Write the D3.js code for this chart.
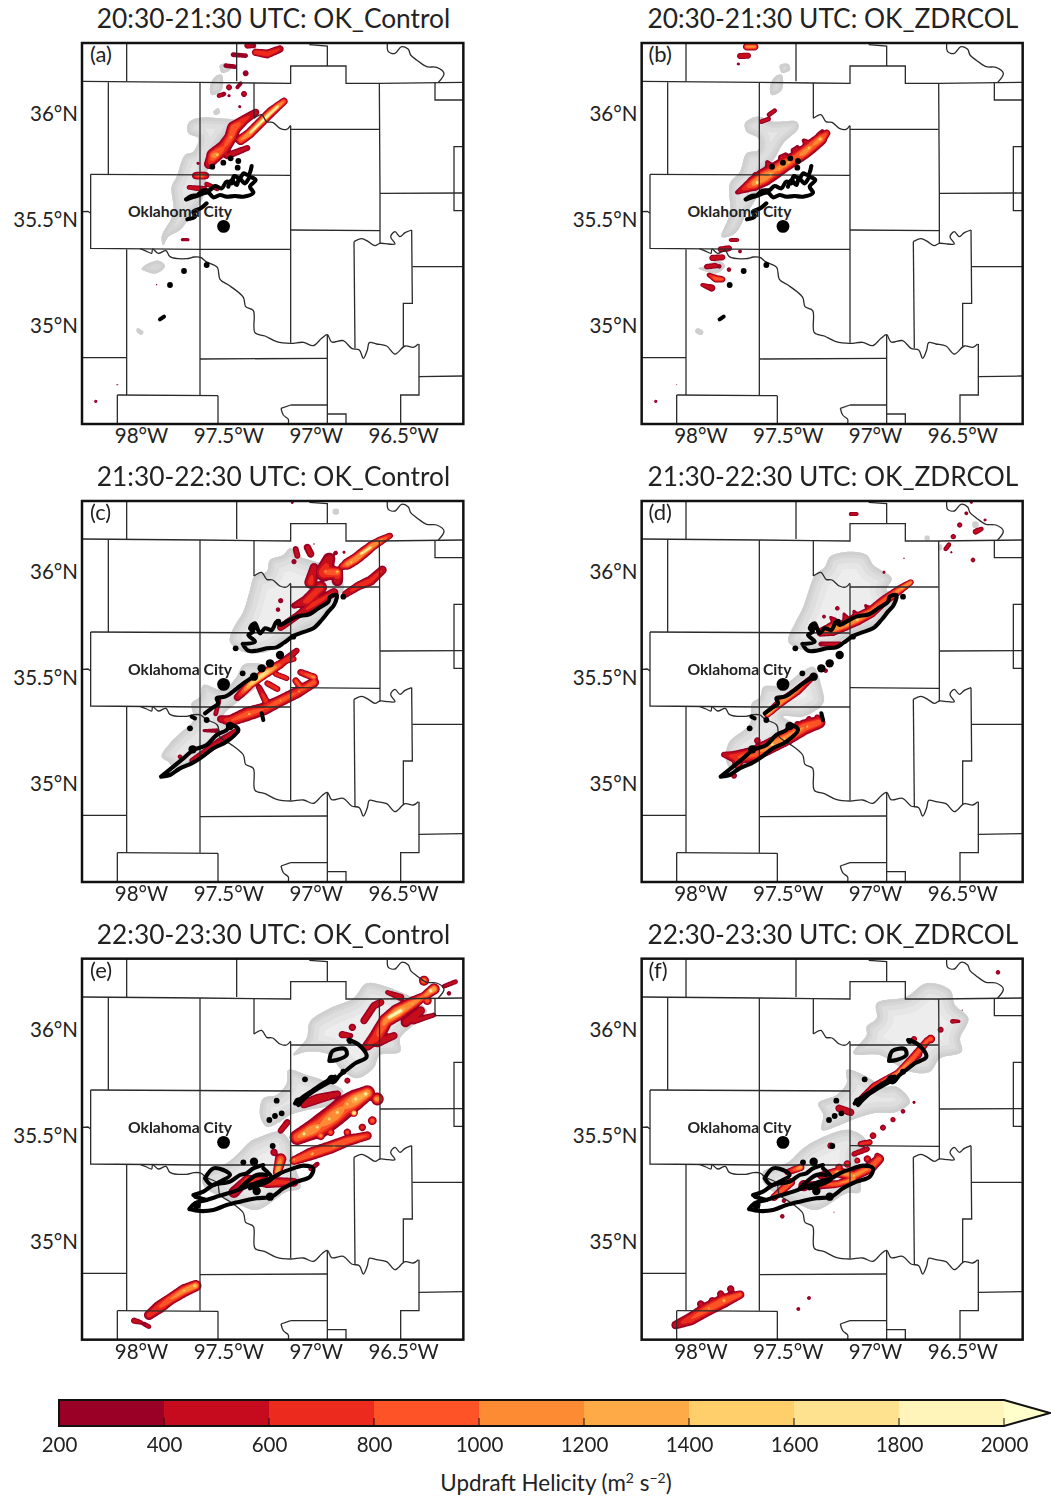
<!DOCTYPE html>
<html><head><meta charset="utf-8">
<script src="https://cdnjs.cloudflare.com/ajax/libs/d3/7.8.5/d3.min.js"></script>
<style>html,body{margin:0;padding:0;background:#fff}svg{display:block}text{font-family:Lato,"Noto Sans",sans-serif;fill:#222}</style>
</head><body><svg id="c" width="1051" height="1498"></svg>
<script>
// ---- map geometry (model-grid units on panel (a); one unit = 1/3 px) ----
const counties=[
[[140,10],[140,124]],[[470,10],[470,124]],[[8,124],[360,127],[522,129],[632,130],[632,78],[798,78],[798,130],[898,130],[1148,127]],
[[688,14],[742,18],[742,78]],[[898,130],[900,460],[900,610]],[[1065,127],[1065,180],[1148,180]],[[1148,320],[1122,320],[1122,512],[1148,512]],
[[900,460],[1148,459]],[[85,127],[85,403]],[[32,403],[632,406]],[[32,403],[32,625],[360,628],[632,628]],[[360,127],[360,1065]],[[522,129],[522,235]],
[[632,268],[898,268]],[[632,258],[632,908]],[[632,570],[900,572]],[[822,605],[825,925]],[[995,570],[997,790],[970,790],[970,920]],[[997,680],[1148,680]],
[[1017,912],[1017,1010],[1148,1008]],[[1017,1010],[1017,1065],[962,1065],[962,1150]],[[742,885],[742,1150]],[[742,955],[360,957]],[[8,953],[140,953]],
[[140,628],[140,1065]],[[112,1065],[414,1067]],[[112,1065],[112,1150]],[[414,1067],[414,1150]],[[742,1122],[798,1122],[798,1150]],[[632,1095],[742,1095]],[[8,515],[24,514],[32,520]]
];
const rivers=[
[[922,12],[925,35],[945,40],[965,20],[985,28],[992,45],[1010,60],[1040,80],[1070,82],[1092,100],[1075,127]],
[[522,235],[545,224],[560,245],[578,247],[600,265],[620,268],[632,256]],
[[180,626],[200,634],[215,640],[218,627],[235,640],[258,632],[270,650],[320,656],[342,651],[362,652],[378,665],[412,682],[420,718],[450,738],[490,772],[497,800],[520,812],[525,878],[555,888],[590,905],[632,910],[670,907],[700,917],[725,895],[742,884],[755,906],[790,902],[815,925],[838,930],[850,955],[862,930],[868,908],[890,912],[920,918],[945,942],[975,918],[1000,922],[1015,912]],
[[822,605],[845,596],[865,605],[885,617],[900,610],[925,612],[945,612],[932,590],[945,575],[960,590],[975,578],[995,570]],
[[603,1105],[632,1095]],[[603,1105],[610,1125],[625,1138],[625,1150]]
];
// ---- composite reflectivity / gray swaths: closed outlines ----
const grayA=[[[350,235],[420,235],[470,245],[440,280],[400,340],[380,400],[370,470],[330,530],[300,570],[265,590],[250,615],[245,590],[280,520],[275,440],[290,410],[315,345],[340,335],[355,295],[325,280],[325,250]],
[[420,75],[445,72],[450,90],[425,98]],[[405,110],[425,105],[425,150],[395,165],[390,140]],[[415,205],[420,218],[405,225],[400,215]],[[190,680],[235,662],[255,678],[230,700],[200,695],[185,688]],[[172,865],[190,875],[185,885],[170,875]]];
const grayB=[[[315,250],[350,230],[400,245],[470,245],[475,265],[430,310],[400,360],[360,400],[350,470],[320,520],[290,575],[265,590],[245,590],[270,520],[270,430],[300,395],[320,340],[355,330],[355,295],[320,275]],
[[420,75],[445,72],[450,90],[425,98]],[[405,110],[425,105],[425,150],[395,165],[390,140]],[[190,680],[235,662],[255,678],[230,700],[200,695],[175,685]],[[172,865],[190,875],[185,885],[165,875]]];
const grayC=[[[630,145],[660,170],[720,190],[780,230],[790,270],[760,300],[730,360],[680,385],[620,420],[560,455],[490,455],[450,425],[460,385],[490,335],[510,270],[525,225],[560,215],[570,180],[610,165]],
[[520,490],[560,500],[530,560],[480,600],[430,650],[470,690],[420,730],[360,780],[290,810],[265,785],[245,770],[270,730],[300,700],[340,660],[335,610],[360,590],[370,555],[430,570],[470,530],[490,495]],
[[760,28],[775,28],[775,42],[760,42]]];
const grayD=[[[630,155],[680,165],[700,195],[755,235],[740,270],[770,290],[740,330],[720,370],[640,400],[560,450],[490,450],[445,425],[465,370],[490,320],[510,260],[525,225],[555,200],[570,170]],
[[520,500],[545,560],[550,610],[490,650],[430,650],[470,680],[420,720],[370,770],[280,810],[260,790],[265,730],[330,670],[335,610],[360,590],[370,560],[430,555],[480,520]],
[[1000,65],[1015,68],[1012,85],[998,80]],[[855,108],[868,108],[868,120],[855,120]],[[895,135],[905,135],[905,150],[895,150]]];
const grayE=[[[860,85],[920,95],[970,115],[1000,130],[1040,170],[1000,210],[960,250],[960,290],[900,300],[880,340],[830,370],[780,340],[750,300],[680,290],[640,300],[680,250],[690,200],[750,160],[820,130]],
[[625,345],[680,360],[740,380],[790,410],[750,450],[680,465],[630,480],[600,500],[560,515],[540,480],[550,430],[590,420],[620,385]],
[[530,550],[600,530],[630,560],[640,620],[660,700],[620,710],[530,765],[480,750],[430,730],[370,690],[370,660],[440,625],[480,590],[510,560]]];
const grayF=[[[860,85],[930,105],[945,150],[985,190],[960,250],[965,290],[900,310],[870,350],[810,350],[770,330],[720,300],[640,295],[680,240],[680,215],[710,190],[710,145],[800,125]],
[[620,345],[680,365],[730,395],[770,395],[810,440],[770,470],[700,475],[650,490],[600,510],[545,525],[550,480],[535,445],[590,420],[620,385]],
[[530,555],[630,525],[680,560],[650,600],[660,710],[620,715],[530,765],[480,750],[430,730],[370,680],[370,650],[440,625],[490,580]]];
// ---- updraft-helicity swaths: spines of [x, y, half-width index, peak m2/s2] ----
const uhA=[
[[610,182,5,1000],[590,198,6,1200],[570,215,7,1100],[545,240,7,1200],[525,260,7,1100],[505,280,7,1200],[480,298,7,1000]],
[[592,197,3,1900],[548,238,3,2100],[510,275,3,1900],[565,218,2,1700]],
[[525,215,5,500],[490,238,7,700],[460,262,10,1000],[450,290,9,900],[430,320,10,800],[400,345,11,1100],[385,370,7,600]],[[410,342,3,1700]],[[450,290,3,1300]],
[[500,322,4,450],[440,345,5,500]],[[345,405,5,700],[360,405,5,1100],[375,405,5,700]],[[325,440,3,500],[370,445,4,600]],[[378,430,3,500],[410,445,3,400]],
[[305,597,2,400],[322,597,2,400]],[[525,35,5,800],[560,40,6,800],[598,25,5,600]],[[457,42,3,400],[495,45,3,400]],[[500,15,4,500],[520,15,3,400]],
[[435,75,3,400],[462,78,3,400]],[[495,98,4,400]],[[480,128,2.5,400],[470,140,2.5,400]],[[445,140,4,500]],[[415,165,3,450],[430,160,3,400]],[[445,165,2,350]],
[[490,160,4,500]],[[477,198,2,350]],[[228,732,1,400]],[[110,1032,1,350]],[[45,1082,2,500]],[[352,368,2,350]]];
const uhB=[
[[558,278,5,800],[540,295,9,1100],[515,315,10,1000],[490,335,10,1100],[460,355,10,900],[430,372,11,1100],[400,392,12,1000],[370,410,13,1200],[340,428,11,1100],[290,455,3,400]],
[[538,295,3,1900]],[[505,322,3,1700]],[[445,365,3,1700]],[[390,402,4,1800]],[[350,425,4,2000]],[[415,385,3,1500]],
[[535,283,4,500],[545,270,2,350]],[[500,310,7,500],[490,300,3,400]],[[465,330,7,500],[470,320,3,400]],[[425,352,6,500],[435,342,3,400]],[[385,375,7,500],[380,365,3,400]],[[345,405,5,500]],
[[318,18,5,1100],[342,18,5,1100]],[[298,46,4,600],[322,45,4,600]],[[293,70,2,400]],[[385,222,3,450],[402,210,3,450]],[[362,243,3,500],[384,235,3,500]],
[[270,598,2.5,450],[290,598,2.5,450]],[[240,626,4,550],[265,623,4,550]],[[298,632,2.5,400]],[[215,652,4,600],[245,650,4,600]],[[198,678,3.5,500],[225,675,3.5,500]],
[[236,677,3,450]],[[265,687,3,400]],[[205,703,3,600],[225,714,5,1000],[245,716,4,900]],[[185,733,2.5,500],[213,742,5,500]],[[108,1032,.7,300]],[[45,1082,2,500]]];
const uhC=[
[[928,105,4,700],[900,120,6,1100],[875,135,7,1200],[850,155,8,1100],[825,175,8,1200],[800,190,8,1100],[785,197,5,800]],[[870,140,3,1900],[840,160,3,1900]],[[812,185,3,1800]],[[905,118,2,1500]],
[[905,208,6,600],[870,240,7,700],[835,255,6,800],[795,280,5,500]],
[[745,175,9,500],[730,215,13,800],[770,215,8,1000],[770,240,8,500]],[[735,212,3,1400]],[[770,213,3,1600]],[[700,200,6,500],[690,245,9,700]],[[720,260,9,700],[680,300,9,700],[640,315,4,400]],
[[760,275,6,600],[700,310,7,700],[650,345,5,500],[600,380,5,600]],[[645,145,4,450],[650,165,4,500]],[[640,183,3.5,400]],[[680,140,5,450],[690,160,5,500]],[[700,130,1,300]],
[[765,157,3,400]],[[790,155,2,350]],[[600,300,3.5,400]],[[592,327,3,400]],
[[648,450,4,500],[600,490,6,800],[550,520,7,1700],[510,550,6,1500],[470,590,5,500]],[[615,482,3.5,700],[640,475,3.5,700]],[[585,520,3.5,800],[618,533,3.5,800]],
[[560,548,4,700],[590,565,4,800]],[[660,515,4.5,700],[700,530,5,1100]],[[645,540,4.5,900],[665,565,5,800]],
[[700,545,7,900],[650,575,8,800],[600,600,8,900],[550,625,9,800],[500,640,10,900],[450,660,8,800],[420,655,5,500]],[[600,600,3,1500]],[[505,640,3,1600]],[[655,572,3,1300]],[[535,560,4,500],[555,600,5,800]],
[[415,600,3,400],[405,640,3,450]],[[370,690,2,350],[410,690,3,400]],[[470,690,4,500],[420,720,5,400],[380,750,5,600],[335,780,4,500]],[[298,768,3,450]],[[635,5,2,350]]];
const uhD=[
[[810,245,4,1200],[780,265,6,1100],[730,300,7,900],[690,335,8,1100],[650,355,9,1200],[610,375,8,1100],[575,385,10,1200],[540,395,6,800]],[[785,262,3,1700]],[[650,357,3,1900]],[[620,372,3,1600]],[[575,385,4,2000]],
[[685,325,5,500],[675,315,2,350]],[[645,342,5,500],[640,332,2,350]],[[615,352,5,500],[610,340,2,350]],[[580,360,5,500],[570,350,2,350]],
[[600,430,3,500],[540,430,3,400]],[[550,348,2.5,450]],[[590,323,3,450]],[[730,215,2,350]],[[790,173,1,300]],
[[515,530,4,500],[470,570,6,1000],[420,605,6,1200],[380,640,5,1300]],[[555,510,3,400]],
[[535,665,9,900],[490,680,11,1000],[440,710,11,1100],[390,735,11,1200],[340,760,11,900],[290,770,10,800],[250,762,4,500]],[[500,678,3,1500]],[[395,732,4,1900]],[[430,715,3,1700]],[[290,790,7,800]],[[350,720,4.5,500]],[[280,825,4,500]],
[[505,655,4,500]],[[470,670,4,500]],[[530,650,4,500]],
[[630,40,2.5,450],[648,40,2.5,450]],[[957,73,3.5,450]],[[977,38,2.5,400]],[[938,108,3.5,500]],[[915,145,3,450],[925,132,3,450]],[[932,155,1.5,350]],[[997,178,3,450]],
[[1005,93,4,500],[1022,85,3,450]],[[1033,58,2,350]],[[992,5,2,350]]];
const uhE=[
[[1060,100,8,1300],[1030,122,6,1000],[1000,140,9,1100],[950,170,12,1300],[915,195,10,1100],[890,240,11,800],[860,270,7,600]],[[1050,105,5,2000]],[[960,165,5,2000],[925,185,4,2000]],[[995,145,3,1500]],[[895,240,3,1200]],
[[1030,75,7,1100]],[[1000,195,5,500],[1060,178,3,450]],[[1125,78,3,500],[1090,92,3,400]],[[1040,135,6,1000]],[[1020,165,6,600],[975,200,7,500]],[[1105,113,3,400]],
[[920,110,3,450],[960,125,5,500]],[[900,140,5,600],[880,150,5,500],[850,195,5,500]],[[815,215,5,500]],[[785,237,5,600],[810,240,3.5,400]],[[940,240,5,500],[890,260,7,600]],
[[860,412,11,1200],[825,432,15,1300],[790,455,17,1000],[760,480,17,1200],[720,510,17,1000],[690,525,14,1200],[650,545,11,1000]],
[[855,415,5,2000]],[[825,430,4,2000]],[[800,445,3,1900]],[[820,472,5,2000]],[[770,470,4,1900]],[[745,490,4,1700]],[[710,515,4,1800]],[[670,535,4,2000]],[[885,430,4,1400]],
[[890,430,9,1100]],[[875,495,6,1000]],[[845,515,5,700]],
[[860,540,6,800],[800,555,8,1000],[750,575,9,1000],[690,595,9,1000],[640,615,6,1000]],[[760,572,3,1600]],[[695,595,3,1600]],[[640,612,3,1400]],[[720,540,6,1100]],[[750,530,5,1000]],[[800,530,5,900]],[[600,610,8,1000],[590,650,6,1400]],
[[580,590,5,500]],[[620,500,4.5,500],[600,525,4,500]],[[800,375,4,500]],[[770,415,5,500],[710,430,7,600],[670,445,6,600]],
[[640,680,6,600],[560,680,8,800],[500,670,6,700],[460,710,8,500]],[[710,625,3,400],[690,640,3,500]],
[[345,990,8,1200],[310,1005,9,1100],[270,1030,8,1000],[235,1055,9,800],[205,1078,7,700]],[[342,990,3,1900]],[[310,1005,3,1700]],[[270,1030,2,1500]],[[160,1095,4,600],[180,1100,3,450]],[[190,1105,3,400],[205,1113,3,450]]];
const uhF=[
[[298,1017,6,900],[250,1035,10,1000],[200,1060,10,900],[150,1090,9,800],[105,1108,6,500]],[[250,1035,3,1600]],[[205,1058,3,1300]],[[270,1000,5,500]],[[240,1015,5,500]],[[215,1035,5,500]],[[180,1045,5,500]],
[[505,1027,2.5,450]],[[473,1060,2.5,450]],[[1072,50,3,450]],[[965,163,1,300]],[[935,197,3,500],[955,197,2,400]],[[900,222,4,500]],[[870,250,6,1000]],[[820,250,4,600]],[[830,295,7,800]],
[[860,255,5,900],[815,310,6,1000],[770,352,4,1100],[700,390,4,700],[650,440,4,500]],
[[820,440,2,350]],[[787,467,3,450]],[[757,492,3.5,500]],[[727,516,4,500]],[[697,540,4.5,600]],[[660,565,4,700],[687,560,4,700]],[[640,595,3.5,500],[680,580,3.5,500]],[[570,570,4.5,700]],[[595,458,5,600],[630,470,5,600]],
[[715,610,7,900],[690,635,8,1000],[640,660,7,1100],[590,650,7,1100],[540,660,5,500]],[[640,660,3,1800]],[[590,650,3,1900]],[[690,635,3,1400]],[[640,670,5,1100],[590,685,5,1000],[510,690,6,500]],[[480,635,5,1300],[440,650,4,500]],
[[710,600,4,600]],[[680,610,5,700]],[[650,615,4,700]],[[620,625,5,800]],[[595,635,5,800]],
[[450,680,6,1000],[400,725,5,1000]],[[445,685,2,1600]],[[405,720,2,1500]],[[430,735,3,400]],[[490,690,8,500]],[[425,782,3,450]],[[390,810,.8,300]],[[580,770,.8,300]]];
// ---- observed rotation tracks (black), shared per row ----
const trackAB=[[[318,478],[335,468],[352,465],[368,452],[390,450],[405,438],[425,445],[440,425],[455,430],[462,408],[480,415],[490,400],[505,405],[515,378]],
[[320,478],[350,468],[385,458],[400,472],[420,465],[440,470],[465,468],[490,470],[520,458],[510,440],[527,420],[510,412],[495,430],[478,415],[470,435],[455,420],[445,440]],
[[322,538],[345,530],[340,515],[362,505],[380,490]],[[240,838],[252,830]]];
const dotsAB=[[312,693],[380,675],[270,735],[430,368],[452,355],[475,363],[473,383],[397,380]];
const bigAB=[];
const trackCD=[[[488,432],[505,452],[530,452],[560,445],[590,442],[612,428],[640,408],[665,398],[700,385],[725,360],[745,335],[762,315],[770,285],[750,290],[745,305],[715,325],[690,342],[650,350],[625,362],[600,375],[590,365],[575,390],[555,385],[540,400],[525,370],[510,385],[520,395],[505,405],[525,425],[488,432]],
[[375,640],[395,625],[415,610],[410,595],[435,590],[465,570],[490,550],[520,530]],[[545,640],[550,660]],[[345,655],[335,650]],
[[243,830],[270,825],[300,805],[335,790],[360,775],[400,745],[440,725],[475,688],[450,675],[440,690],[410,705],[380,735],[340,750],[310,775],[280,800],[243,830]]];
const dotsCD=[[790,290],[467,445],[488,520],[330,685],[380,660],[595,365],[640,410]];
const bigCD=[[522,530],[545,505],[570,490],[600,465],[338,748],[520,380],[450,678]];
const trackEF=[[[748,318],[758,288],[795,282],[800,300],[770,315],[748,318]],[[805,255],[835,268],[860,305],[825,325],[800,345],[780,360],[760,382],[745,375]],
[[645,445],[670,425],[700,405],[730,385],[765,365]],[[655,450],[685,420],[715,400],[755,378]],
[[328,762],[360,768],[400,765],[440,750],[480,740],[530,730],[575,725],[610,700],[650,680],[690,665],[700,640],[670,632],[640,640],[600,655],[575,670],[540,680],[500,695],[460,710],[420,722],[380,735],[345,745],[328,762]],
[[340,720],[370,710],[400,690],[450,680],[480,660],[500,655],[520,640],[550,630]],[[375,670],[400,640],[430,645],[450,660],[420,680],[395,690],[375,670]],[[345,725],[380,735]],[[510,700],[540,690],[575,670],[550,640]],[[480,700],[530,660],[560,660]]];
const dotsEF=[[675,373],[590,437],[605,475],[585,483],[568,495],[578,573],[490,622],[810,258],[790,350]];
const bigEF=[[522,620],[755,372],[530,708],[570,725],[350,750],[655,440]];
// ---- labels ----
const lonTicks=[-98,-97.5,-97,-96.5], latTicks=[36,35.5,35];
const panelTags=["(a)","(b)","(c)","(d)","(e)","(f)"];
const times=["20:30-21:30 UTC","21:30-22:30 UTC","22:30-23:30 UTC"], runs=["OK_Control","OK_ZDRCOL"];
const levels=[200,400,600,800,1000,1200,1400,1600,1800,2000];
const colors=["#9a0026","#c60b1e","#ec2a1e","#fd5326","#fd8b34","#feab47","#fecf6a","#fee290","#fff4ba","#ffffcc"];
const cityName="Oklahoma City", cityLonLat=[-97.51,35.47];

const svg=d3.select("#c"), defs=svg.append("defs");
defs.append("filter").attr("id","soft").attr("x","-2%").attr("y","-2%").attr("width","104%").attr("height","104%").append("feGaussianBlur").attr("stdDeviation",0.45);
const STEP=4,N=Math.ceil(1170/STEP)+1,E=1.4;
function fieldOf(spines){
  const v=new Float32Array(N*N);
  const sig=q=>(2.0*q[2]+1)/Math.sqrt(2*Math.pow(Math.log(q[3]/200),1/E));
  for(const s of spines){
    const segs=s.length==1?[[s[0],s[0]]]:d3.pairs(s);
    for(const [a,b] of segs){
      const sa=sig(a),sb=sig(b);
      const pad=4*Math.max(sa,sb);
      const x0=Math.max(0,Math.floor((Math.min(a[0],b[0])-pad)/STEP)),x1=Math.min(N-1,Math.ceil((Math.max(a[0],b[0])+pad)/STEP));
      const y0=Math.max(0,Math.floor((Math.min(a[1],b[1])-pad)/STEP)),y1=Math.min(N-1,Math.ceil((Math.max(a[1],b[1])+pad)/STEP));
      const dx=b[0]-a[0],dy=b[1]-a[1],L=dx*dx+dy*dy;
      for(let j=y0;j<=y1;j++)for(let i=x0;i<=x1;i++){
        const px=i*STEP,py=j*STEP;
        const t=L?Math.max(0,Math.min(1,((px-a[0])*dx+(py-a[1])*dy)/L)):0;
        const qx=a[0]+t*dx-px,qy=a[1]+t*dy-py,sg=sa+t*(sb-sa),pk=a[3]+t*(b[3]-a[3]);
        const w=pk*Math.exp(-Math.pow((qx*qx+qy*qy)/(2*sg*sg),E));
        if(w>v[j*N+i])v[j*N+i]=w;
      }
    }
  }
  return v;
}
const panels=[
 {i:0,cx:80,cy:40,sh:[0,0],fx:[6,1150],fy:[9,1152],gray:grayA,uh:uhA,tr:trackAB,dots:dotsAB,big:bigAB,bx:0},
 {i:1,cx:640,cy:40,sh:[2,0],fx:[5,1148],fy:[9,1152],gray:grayB,uh:uhB,tr:trackAB,dots:dotsAB,big:bigAB,bx:-1},
 {i:2,cx:80,cy:500,sh:[0,7],fx:[6,1150],fy:[3,1146],gray:grayC,uh:uhC,tr:trackCD,dots:dotsCD,big:bigCD,bx:0},
 {i:3,cx:640,cy:500,sh:[2,7],fx:[5,1148],fy:[3,1146],gray:grayD,uh:uhD,tr:trackCD,dots:dotsCD,big:bigCD,bx:-1},
 {i:4,cx:80,cy:955,sh:[0,-2],fx:[6,1150],fy:[11,1154],gray:grayE,uh:uhE,tr:trackEF,dots:dotsEF,big:bigEF,bx:0},
 {i:5,cx:640,cy:955,sh:[2,-2],fx:[5,1148],fy:[11,1154],gray:grayF,uh:uhF,tr:trackEF,dots:dotsEF,big:bigEF,bx:-1}];
for(const p of panels){
  const sx=d3.scaleLinear().domain([0,1170]).range([p.cx,p.cx+390]);
  const sy=d3.scaleLinear().domain([0,1170]).range([p.cy,p.cy+390]);
  const g=svg.append("g");
  const left=sx(p.fx[0]),right=sx(p.fx[1]),top=sy(p.fy[0]),bot=sy(p.fy[1]);
  const cid="clip"+p.i;
  defs.append("clipPath").attr("id",cid).append("rect").attr("x",left).attr("y",top).attr("width",right-left).attr("height",bot-top);
  const map=g.append("g").attr("clip-path",`url(#${cid})`).append("g").attr("filter","url(#soft)");
  const closed=d3.line().x(d=>sx(d[0])).y(d=>sy(d[1])).curve(d3.curveCatmullRomClosed);
  p.gray.forEach((poly,k)=>{
    const id=`g${p.i}_${k}`, d=closed(poly);
    defs.append("clipPath").attr("id",id).append("path").attr("d",d);
    const gg=map.append("g").attr("clip-path",`url(#${id})`);
    gg.append("path").attr("d",d).attr("fill","#ededed");
    [[34,"#e6e6e6"],[22,"#dedede"],[12,"#d6d6d6"],[6,"#cfcfcf"]].forEach(([w,c])=>gg.append("path").attr("d",d).attr("fill","none").attr("stroke",c).attr("stroke-width",w));
  });
  const vals=fieldOf(p.uh);
  const contours=d3.contours().size([N,N]).thresholds(levels)(vals);
  const path=d3.geoPath(d3.geoTransform({point(x,y){this.stream.point(sx(x*STEP),sy(y*STEP));}}));
  map.selectAll("path.uh").data(contours).join("path").attr("class","uh").attr("d",path).attr("fill",(d,i)=>colors[i]);
  const shifted=l=>l.map(q=>[q[0]-p.sh[0],q[1]-p.sh[1]]);
  const line=d3.line().x(d=>sx(d[0])).y(d=>sy(d[1]));
  map.selectAll("path.c").data(counties).join("path").attr("class","c").attr("d",d=>line(shifted(d))).attr("fill","none").attr("stroke","#2b2b2b").attr("stroke-width",1.3);
  const rline=d3.line().x(d=>sx(d[0])).y(d=>sy(d[1])).curve(d3.curveCatmullRom);
  map.selectAll("path.r").data(rivers).join("path").attr("class","r").attr("d",d=>rline(shifted(d))).attr("fill","none").attr("stroke","#2b2b2b").attr("stroke-width",1.3);
  const tl=d3.line().x(d=>sx(d[0]+p.bx)).y(d=>sy(d[1])).curve(d3.curveCatmullRom);
  map.selectAll("path.t").data(p.tr).join("path").attr("class","t").attr("d",tl).attr("fill","none").attr("stroke","#000").attr("stroke-width",4.1).attr("stroke-linecap","round").attr("stroke-linejoin","round");
  map.selectAll("circle.d").data(p.dots).join("circle").attr("class","d").attr("cx",d=>sx(d[0]+p.bx)).attr("cy",d=>sy(d[1])).attr("r",2.9).attr("fill","#000");
  map.selectAll("circle.b").data(p.big).join("circle").attr("class","b").attr("cx",d=>sx(d[0]+p.bx)).attr("cy",d=>sy(d[1])).attr("r",4.2).attr("fill","#000");
  const ox=p.i%2?559.4:0, oy=[0,458,916][Math.floor(p.i/2)];
  const lon=d3.scaleLinear().domain([-98,-96.5]).range([141+ox,403+ox]);
  const lat=d3.scaleLinear().domain([36,35]).range([114+oy,326+oy]);
  g.append("circle").attr("cx",lon(cityLonLat[0])-3).attr("cy",lat(cityLonLat[1])).attr("r",6.4).attr("fill","#000");
  g.append("text").attr("x",180+ox).attr("y",217+oy).attr("text-anchor","middle").attr("font-size",15.7).attr("font-weight",700).text(cityName);
  g.append("rect").attr("x",left).attr("y",top).attr("width",right-left).attr("height",bot-top).attr("fill","none").attr("stroke","#111").attr("stroke-width",2.5);
  const ax=d3.axisBottom(lon).tickValues(lonTicks).tickSize(0).tickPadding(0).tickFormat(d=>Math.abs(d)+"°W");
  const ag=g.append("g").attr("transform",`translate(0,${441+oy-17})`).call(ax);
  ag.select(".domain").remove(); ag.selectAll("text").attr("font-size",20.5).attr("fill","#222").attr("dy","0.95em").style("font-family","Lato");
  const ay=d3.axisLeft(lat).tickValues(latTicks).tickSize(0).tickPadding(0).tickFormat(d=>d+"°N");
  const agy=g.append("g").attr("transform",`translate(${78+ox},0)`).call(ay);
  agy.select(".domain").remove(); agy.selectAll("text").attr("font-size",20.5).attr("fill","#222").style("font-family","Lato");
  g.append("text").attr("x",273.5+ox).attr("y",28+oy).attr("text-anchor","middle").attr("font-size",26.3).text(times[Math.floor(p.i/2)]+": "+runs[p.i%2]);
  g.append("text").attr("x",90+(p.i%2?-1:0)+ox).attr("y",62+oy).attr("font-size",22).text(panelTags[p.i]);
}
const cb=d3.scaleLinear().domain([200,2000]).range([59,1004]);
const cbT=1400,cbB=1426;
const cg=svg.append("g");
cg.selectAll("rect").data(levels.slice(0,-1)).join("rect").attr("x",d=>cb(d)).attr("y",cbT).attr("width",d=>cb(d+200)-cb(d)+0.5).attr("height",cbB-cbT).attr("fill",(d,i)=>colors[i]);
cg.append("path").attr("d",`M${cb(2000)},${cbT}L1050,${(cbT+cbB)/2}L${cb(2000)},${cbB}Z`).attr("fill",colors[9]);
cg.append("path").attr("d",`M${cb(200)},${cbT}L${cb(2000)},${cbT}L1050,${(cbT+cbB)/2}L${cb(2000)},${cbB}L${cb(200)},${cbB}Z`).attr("fill","none").attr("stroke","#111").attr("stroke-width",2);
const cax=d3.axisBottom(cb).tickValues(levels).tickSize(0).tickPadding(11).tickFormat(d3.format("d"));
const cag=svg.append("g").attr("transform",`translate(0,${cbB})`).call(cax);
cag.select(".domain").remove();cag.selectAll("text").attr("font-size",20.5).attr("fill","#222").style("font-family","Lato");
cg.selectAll("line").data(levels.slice(1)).join("line").attr("x1",d=>cb(d)).attr("x2",d=>cb(d)).attr("y1",cbB-8).attr("y2",cbB).attr("stroke","#111").attr("stroke-width",1);
const lab=svg.append("text").attr("x",556).attr("y",1491).attr("text-anchor","middle").attr("font-size",22.4);
lab.append("tspan").text("Updraft Helicity (m");
lab.append("tspan").attr("dy",-8).attr("font-size",14).text("2");
lab.append("tspan").attr("dy",8).text(" s");
lab.append("tspan").attr("dy",-8).attr("font-size",14).text("−2");
lab.append("tspan").attr("dy",8).text(")");
</script></body></html>
